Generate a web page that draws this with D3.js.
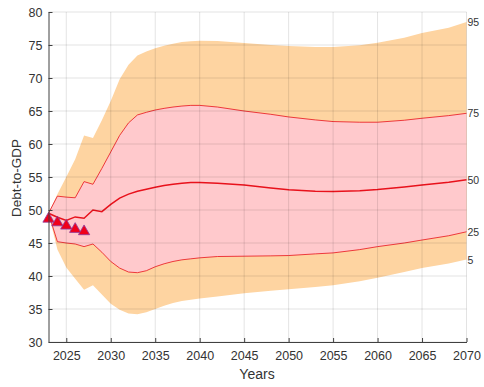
<!DOCTYPE html>
<html>
<head>
<meta charset="utf-8">
<script src="https://cdnjs.cloudflare.com/ajax/libs/d3/7.8.5/d3.min.js"></script>
<style>
    body { margin: 0; background: #fff; }
    svg { font-family: "Liberation Sans", Arial, sans-serif; }
</style>
</head>
<body>
<svg id="chart" width="484" height="387"></svg>
<script>

//  fan chart data
var years = [2023, 2024, 2025, 2026, 2027, 2028, 2029, 2030, 2031, 2032, 2033, 2034, 2035,
    2036, 2037, 2038, 2039, 2040, 2042, 2045, 2048, 2050, 2053, 2055, 2058, 2060, 2063, 2065, 2068, 2070];

var p95 = [49.5, 52.4, 55.0, 57.7, 61.3, 60.9, 63.6, 66.5, 69.8, 72.0, 73.4, 74.0, 74.5,
    74.9, 75.2, 75.45, 75.55, 75.65, 75.6, 75.3, 75.0, 74.85, 74.7, 74.7, 74.95, 75.35, 76.1, 76.8, 77.6, 78.5];

var p75 = [49.5, 52.1, 51.95, 51.85, 54.3, 53.9, 56.3, 58.8, 61.3, 63.2, 64.4, 64.8, 65.15,
    65.4, 65.6, 65.75, 65.85, 65.85, 65.6, 65.0, 64.5, 64.1, 63.65, 63.4, 63.3, 63.3, 63.6, 63.9, 64.3, 64.65];

var p50 = [49.5, 48.9, 48.4, 48.95, 48.75, 50.0, 49.75, 50.85, 51.8, 52.4, 52.85, 53.15, 53.45,
    53.7, 53.9, 54.05, 54.15, 54.15, 54.05, 53.8, 53.35, 53.05, 52.85, 52.8, 52.9, 53.1, 53.5, 53.8, 54.2, 54.6];

var p25 = [49.5, 45.2, 45.0, 44.85, 44.45, 44.85, 43.6, 42.2, 41.2, 40.6, 40.5, 40.8, 41.4,
    41.85, 42.2, 42.45, 42.6, 42.75, 42.95, 43.0, 43.05, 43.1, 43.35, 43.5, 44.0, 44.45, 45.0, 45.45, 46.1, 46.7];

var p5 = [49.5, 44.0, 41.3, 39.6, 37.9, 38.6, 37.2, 35.8, 34.9, 34.3, 34.2, 34.5, 35.0,
    35.5, 35.9, 36.2, 36.4, 36.6, 36.9, 37.4, 37.75, 38.0, 38.35, 38.6, 39.2, 39.75, 40.6, 41.2, 41.9, 42.5];

//  actual / projected points (triangles)
var marker_years = [2023, 2024, 2025, 2026, 2027];
var marker_values = [48.65, 48.1, 47.6, 47.1, 46.75];

var x_ticks = [2025, 2030, 2035, 2040, 2045, 2050, 2055, 2060, 2065, 2070];
var y_ticks = [30, 35, 40, 45, 50, 55, 60, 65, 70, 75, 80];

var end_labels = [
    { 'label': '95', 'values': p95 },
    { 'label': '75', 'values': p75 },
    { 'label': '50', 'values': p50 },
    { 'label': '25', 'values': p25 },
    { 'label': '5', 'values': p5 }
];

var colors = {
    'outer': '#fed4a1',
    'inner': '#ffc9cc',
    'line': '#e8111b',
    'grid': 'rgba(0,0,0,0.11)',
    'axis': '#404040',
    'text': '#333'
};

var svg = d3.select('#chart');

var x = d3.scaleLinear().domain([2023, 2070]).range([48.5, 466.5]);
var y = d3.scaleLinear().domain([30, 80]).range([342, 12]);

var rows = years.map(function(yr, i) {
    return { 'year': yr, 'p95': p95[i], 'p75': p75[i], 'p50': p50[i], 'p25': p25[i], 'p5': p5[i] };
});

function band(lo, hi) {
    return d3.area()
        .x(function(d) { return x(d.year); })
        .y0(function(d) { return y(d[lo]); })
        .y1(function(d) { return y(d[hi]); });
}

function line(key) {
    return d3.line()
        .x(function(d) { return x(d.year); })
        .y(function(d) { return y(d[key]); });
}

svg.append('path').datum(rows).attr('d', band('p5', 'p95')).attr('fill', colors.outer);
svg.append('path').datum(rows).attr('d', band('p25', 'p75')).attr('fill', colors.inner);

svg.append('path').datum(rows).attr('d', line('p75'))
    .attr('fill', 'none').attr('stroke', colors.line).attr('stroke-width', 0.8);
svg.append('path').datum(rows).attr('d', line('p25'))
    .attr('fill', 'none').attr('stroke', colors.line).attr('stroke-width', 0.8);
svg.append('path').datum(rows).attr('d', line('p50'))
    .attr('fill', 'none').attr('stroke', colors.line).attr('stroke-width', 1.5);

//  grid sits on top of the bands, like the original
var grid = svg.append('g');

grid.selectAll('.vgrid')
    .data(x_ticks)
    .enter().append('line')
    .attr('x1', function(d) { return x(d); }).attr('x2', function(d) { return x(d); })
    .attr('y1', y(30)).attr('y2', y(80))
    .attr('stroke', colors.grid);

grid.selectAll('.hgrid')
    .data(y_ticks)
    .enter().append('line')
    .attr('x1', x(2023)).attr('x2', x(2070))
    .attr('y1', function(d) { return y(d); }).attr('y2', function(d) { return y(d); })
    .attr('stroke', colors.grid);

//  markers
var tri = d3.symbol().type(d3.symbolTriangle).size(55);

svg.selectAll('.marker')
    .data(marker_years)
    .enter().append('path')
    .attr('d', tri)
    .attr('transform', function(d, i) { return 'translate(' + x(d) + ',' + y(marker_values[i]) + ')'; })
    .attr('fill', '#f0001a')
    .attr('stroke', '#8b3b9e')
    .attr('stroke-width', 0.8);

//  axes, ticks pointing in
var x_axis = d3.axisBottom(x).tickValues(x_ticks).tickFormat(d3.format('d'))
    .tickSizeInner(-4).tickSizeOuter(0).tickPadding(9);
var y_axis = d3.axisLeft(y).tickValues(y_ticks)
    .tickSizeInner(-4).tickSizeOuter(0).tickPadding(6);

var gx = svg.append('g').attr('transform', 'translate(0,' + y(30) + ')').call(x_axis);
var gy = svg.append('g').attr('transform', 'translate(' + x(2023) + ',0)').call(y_axis);

[gx, gy].forEach(function(g) {
    g.attr('font-family', null).attr('font-size', null);
    g.select('.domain').attr('stroke', colors.axis);
    g.selectAll('.tick line').attr('stroke', colors.axis);
    g.selectAll('.tick text').attr('fill', colors.text).style('font-size', '12.5px');
});

svg.append('text')
    .attr('x', 257).attr('y', 379)
    .attr('text-anchor', 'middle')
    .attr('fill', colors.text)
    .style('font-size', '14px')
    .text('Years');

svg.append('text')
    .attr('transform', 'translate(21,178) rotate(-90)')
    .attr('text-anchor', 'middle')
    .attr('fill', colors.text)
    .style('font-size', '13.5px')
    .text('Debt-to-GDP');

//  percentile labels at the right end
svg.selectAll('.end-label')
    .data(end_labels)
    .enter().append('text')
    .attr('x', x(2070) + 1)
    .attr('y', function(d) { return y(d.values[d.values.length - 1]) + 4; })
    .attr('fill', colors.text)
    .style('font-size', '10.5px')
    .text(function(d) { return d.label; });

</script>
</body>
</html>
